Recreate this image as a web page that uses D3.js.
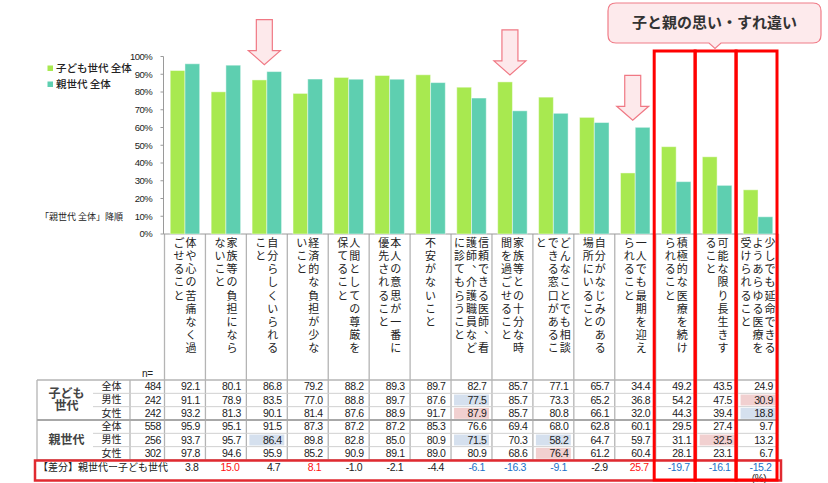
<!DOCTYPE html>
<html>
<head>
<meta charset="utf-8">
<script src="https://cdn.jsdelivr.net/npm/d3@7"></script>
<style>
  html, body { margin: 0; padding: 0; background: #fff; }
  svg { display: block; }
  text { font-family: "Noto Sans CJK JP", "Noto Sans", sans-serif; fill: #222; }
  .num { font-family: "Liberation Sans", Arial, sans-serif; letter-spacing: -0.4px; }
</style>
</head>
<body>
<svg id="chart" width="828" height="483"></svg>
<script>
// ---> Data
const categories = [
  "体や心の苦痛なく過ごせること",
  "家族等の負担にならないこと",
  "自分らしくいられること",
  "経済的な負担が少ないこと",
  "人間としての尊厳を保てること",
  "本人の意思が一番に優先されること",
  "不安がないこと",
  "信頼できる医師、看護師、介護職員などに診てもらうこと",
  "家族等との十分な時間を過ごせること",
  "どんなことでも相談できる窓口があること",
  "自分がなじみのある場所にいること",
  "一人でも最期を迎えられること",
  "積極的な医療を続けられること",
  "可能な限り長生きすること",
  "少しでも延命できるようあらゆる医療を受けられること"
];
const seriesNames = ["子ども世代 全体", "親世代 全体"];
const kidsAll      = [92.1, 80.1, 86.8, 79.2, 88.2, 89.3, 89.7, 82.7, 85.7, 77.1, 65.7, 34.4, 49.2, 43.5, 24.9];
const kidsMale     = [91.1, 78.9, 83.5, 77.0, 88.8, 89.7, 87.6, 77.5, 85.7, 73.3, 65.2, 36.8, 54.2, 47.5, 30.9];
const kidsFemale   = [93.2, 81.3, 90.1, 81.4, 87.6, 88.9, 91.7, 87.9, 85.7, 80.8, 66.1, 32.0, 44.3, 39.4, 18.8];
const parentAll    = [95.9, 95.1, 91.5, 87.3, 87.2, 87.2, 85.3, 76.6, 69.4, 68.0, 62.8, 60.1, 29.5, 27.4, 9.7];
const parentMale   = [93.7, 95.7, 86.4, 89.8, 82.8, 85.0, 80.9, 71.5, 70.3, 58.2, 64.7, 59.7, 31.1, 32.5, 13.2];
const parentFemale = [97.8, 94.6, 95.9, 85.2, 90.9, 89.1, 89.0, 80.9, 68.6, 76.4, 61.2, 60.4, 28.1, 23.1, 6.7];
const diffValues   = [3.8, 15.0, 4.7, 8.1, -1.0, -2.1, -4.4, -6.1, -16.3, -9.1, -2.9, 25.7, -19.7, -16.1, -15.2];
const groupLabels = ["子ども\n世代", "親世代"];
const rowLabels = ["全体", "男性", "女性"];
const sampleSizes = [484, 242, 242, 558, 256, 302];
const yTicks = [0, 10, 20, 30, 40, 50, 60, 70, 80, 90, 100];
// highlighted cells: [row, column, "hi" | "lo"]
const highlights = [[1, 7, "lo"], [1, 14, "hi"], [2, 7, "hi"], [2, 14, "lo"],
                    [4, 2, "lo"], [4, 7, "lo"], [4, 9, "lo"], [4, 13, "hi"], [5, 9, "hi"]];
const arrowCols = [2, 8, 11];
const boxedCols = [12, 13, 14];
const calloutText = "子と親の思い・すれ違い";

const tableRows = [kidsAll, kidsMale, kidsFemale, parentAll, parentMale, parentFemale];
const colors = ["#a8e950", "#5ecfb0"];

// ---> Layout
const svg = d3.select("#chart");
const plotLeft = 164.5, plotRight = 778.5;
const y = d3.scaleLinear().domain([0, 100]).range([234, 56.5]);
const x0 = d3.scaleBand().domain(d3.range(categories.length))
  .range([plotLeft, plotRight]).paddingInner(0.28).paddingOuter(0.14);
const x1 = d3.scaleBand().domain([0, 1]).range([0, x0.bandwidth()]);
const step = x0.step();
const bound = (i) => plotLeft + i * step;
const center = (i) => plotLeft + (i + 0.5) * step;

const tableTop = 380, rowH = 13.33, tableBottom = 460;
const rowY = (r) => tableTop + (r + 0.5) * rowH;

// ---> Grid lines (columns run from chart base through table)
const grid = svg.append("g");
grid.selectAll("line.col")
  .data(d3.range(categories.length + 1))
  .enter().append("line")
  .attr("x1", (d) => bound(d)).attr("x2", (d) => bound(d))
  .attr("y1", y(0)).attr("y2", tableBottom)
  .style("stroke", "#b4b4b4").style("stroke-width", 1.3);

grid.append("line").attr("x1", 130).attr("x2", 130).attr("y1", tableTop).attr("y2", tableBottom)
  .style("stroke", "#b4b4b4").style("stroke-width", 1.3);
grid.append("line").attr("x1", 37).attr("x2", 37).attr("y1", tableTop).attr("y2", tableBottom)
  .style("stroke", "#b4b4b4").style("stroke-width", 1.3);

// horizontal lines of the table
[[tableTop, 37, "#b4b4b4", 1.3], [tableTop + rowH, 93, "#d0d0d0", 1], [tableTop + 2 * rowH, 93, "#d0d0d0", 1],
 [tableTop + 3 * rowH, 37, "#a8a8a8", 2.2], [tableTop + 4 * rowH, 93, "#d0d0d0", 1],
 [tableTop + 5 * rowH, 93, "#d0d0d0", 1], [tableBottom, 37, "#b4b4b4", 1.3]]
  .forEach(([yy, xs, c, w]) => {
    grid.append("line").attr("x1", xs).attr("x2", plotRight).attr("y1", yy).attr("y2", yy)
      .style("stroke", c).style("stroke-width", w);
  });

// highlighted cells
svg.append("g").selectAll("rect")
  .data(highlights)
  .enter().append("rect")
  .attr("x", (d) => bound(d[1]) + 3)
  .attr("y", (d) => tableTop + d[0] * rowH + 1.2)
  .attr("width", step - 6)
  .attr("height", rowH - 2.4)
  .attr("fill", (d) => d[2] === "hi" ? "#f1d0d0" : "#d5e0ee");

// ---> Axis
const axis = svg.append("g");
axis.append("line").attr("x1", 163.5).attr("x2", 163.5).attr("y1", y(100)).attr("y2", y(0))
  .style("stroke", "#9a9a9a");
axis.append("line").attr("x1", 163.5).attr("x2", plotRight).attr("y1", y(0)).attr("y2", y(0))
  .style("stroke", "#9a9a9a");
axis.selectAll("line.tick").data(yTicks).enter().append("line")
  .attr("x1", 160.5).attr("x2", 163.5).attr("y1", (d) => y(d)).attr("y2", (d) => y(d))
  .style("stroke", "#9a9a9a");
axis.selectAll("text").data(yTicks).enter().append("text")
  .attr("class", "num")
  .attr("x", 152).attr("y", (d) => y(d)).attr("dy", "0.35em")
  .attr("text-anchor", "end")
  .style("font-size", "9.5px").style("letter-spacing", "-0.6px")
  .text((d) => d + "%");

// ---> Bars
const barData = [];
categories.forEach((c, i) => {
  barData.push({i: i, s: 0, v: kidsAll[i]});
  barData.push({i: i, s: 1, v: parentAll[i]});
});
svg.append("g").selectAll("rect")
  .data(barData)
  .enter().append("rect")
  .attr("x", (d) => x0(d.i) + x1(d.s))
  .attr("y", (d) => y(d.v))
  .attr("width", x1.bandwidth())
  .attr("height", (d) => y(0) - y(d.v))
  .attr("fill", (d) => colors[d.s])
  .style("stroke", "#ffffff").style("stroke-opacity", 0.45).style("stroke-width", 1);

// ---> Legend
const legend = svg.append("g");
seriesNames.forEach((name, k) => {
  legend.append("rect").attr("x", 47.5).attr("y", 65.5 + k * 16).attr("width", 5.5).attr("height", 5.5)
    .attr("fill", colors[k]);
  legend.append("text").attr("x", 56).attr("y", 68.3 + k * 16).attr("dy", "0.35em")
    .style("font-size", "10.5px").style("font-weight", 500).text(name);
});
svg.append("text").attr("x", 123).attr("y", 216.7).attr("dy", "0.35em").attr("text-anchor", "end")
  .style("font-size", "9px").text("「親世代 全体」降順");

// ---> Vertical category labels (9 characters per column, right to left)
const labels = svg.append("g");
categories.forEach((cat, i) => {
  const chunks = [];
  for (let p = 0; p < cat.length; p += 9) chunks.push(cat.slice(p, p + 9));
  chunks.forEach((chunk, k) => {
    const cx = center(i) + (chunks.length - 1) * 6 - k * 12;
    Array.from(chunk).forEach((ch, j) => {
      const isComma = ch === "、";
      labels.append("text")
        .attr("x", cx + (isComma ? 6 : 0))
        .attr("y", 243.3 + j * 13.1 + (isComma ? -6 : 0))
        .attr("dy", "0.35em")
        .attr("text-anchor", "middle")
        .style("font-size", "11px")
        .text(ch);
    });
  });
});

// ---> Table text
const table = svg.append("g");
table.append("text").attr("class", "num").attr("x", 142).attr("y", 373).attr("dy", "0.35em")
  .style("font-size", "10px").text("n=");

groupLabels.forEach((g, k) => {
  const lines = g.split("\n");
  const cy = tableTop + (k * 3 + 1.5) * rowH;
  lines.forEach((ln, j) => {
    table.append("text")
      .attr("x", 66.5)
      .attr("y", cy + (j - (lines.length - 1) / 2) * 12)
      .attr("dy", "0.35em").attr("text-anchor", "middle")
      .style("font-size", "12px").style("font-weight", "bold").style("fill", "#444")
      .text(ln);
  });
});

tableRows.forEach((row, r) => {
  table.append("text").attr("x", 101.5).attr("y", rowY(r)).attr("dy", "0.35em")
    .style("font-size", "10px").text(rowLabels[r % 3]);
  table.append("text").attr("class", "num").attr("x", 161).attr("y", rowY(r)).attr("dy", "0.35em")
    .attr("text-anchor", "end").style("font-size", "10.5px").text(sampleSizes[r]);
  table.selectAll(null).data(row).enter().append("text")
    .attr("class", "num")
    .attr("x", (d, i) => bound(i + 1) - 5.5)
    .attr("y", rowY(r)).attr("dy", "0.35em")
    .attr("text-anchor", "end")
    .style("font-size", "10.5px")
    .text((d) => d.toFixed(1));
});

// diff row
const diffY = 467;
table.append("text").attr("x", 38).attr("y", diffY).attr("dy", "0.35em")
  .style("font-size", "10px").text("【差分】親世代ー子ども世代");
table.selectAll(null).data(diffValues).enter().append("text")
  .attr("class", "num")
  .attr("x", (d, i) => bound(i + 1) - 7)
  .attr("y", diffY).attr("dy", "0.35em")
  .attr("text-anchor", "end")
  .style("font-size", "10.5px")
  .style("fill", (d) => d >= 5 ? "#ff1010" : (d <= -5 ? "#1a70c8" : "#222"))
  .text((d) => d.toFixed(1));
table.append("text").attr("class", "num").attr("x", 759).attr("y", 478.5).attr("dy", "0.35em")
  .attr("text-anchor", "middle").style("font-size", "10px").text("(%)");

// ---> Red frames
svg.append("rect").attr("x", 35).attr("y", 460.5).attr("width", 746).attr("height", 20)
  .attr("fill", "none").style("stroke", "#e02a30").style("stroke-width", 2.5);
svg.append("g").selectAll("rect")
  .data(boxedCols)
  .enter().append("rect")
  .attr("x", (d) => bound(d) - 1.5)
  .attr("y", 51)
  .attr("width", step)
  .attr("height", 429)
  .attr("fill", "none")
  .style("stroke", "#ff0000").style("stroke-width", 3);

// ---> Arrows
svg.append("g").selectAll("path")
  .data(arrowCols)
  .enter().append("path")
  .attr("d", (i) => {
    const cx = center(i) - 2.5;
    const tip = y(Math.max(kidsAll[i], parentAll[i])) - 7;
    return `M${cx - 8},${tip - 45}H${cx + 8}V${tip - 14}H${cx + 16}L${cx},${tip}L${cx - 16},${tip - 14}H${cx - 8}Z`;
  })
  .attr("fill", "#fde9eb")
  .style("stroke", "#f07884").style("stroke-width", 1.2);

// ---> Callout
svg.append("path")
  .attr("d", "M616,3H813Q821,3 821,11V35Q821,43 813,43H721L715,48.5L709,43H616Q608,43 608,35V11Q608,3 616,3Z")
  .attr("fill", "#fdeaec")
  .style("stroke", "#f07c88").style("stroke-width", 1.2);
svg.append("text").attr("x", 714.5).attr("y", 23).attr("dy", "0.35em").attr("text-anchor", "middle")
  .style("font-size", "15px").style("font-weight", "bold").style("fill", "#333")
  .text(calloutText);
</script>
</body>
</html>
